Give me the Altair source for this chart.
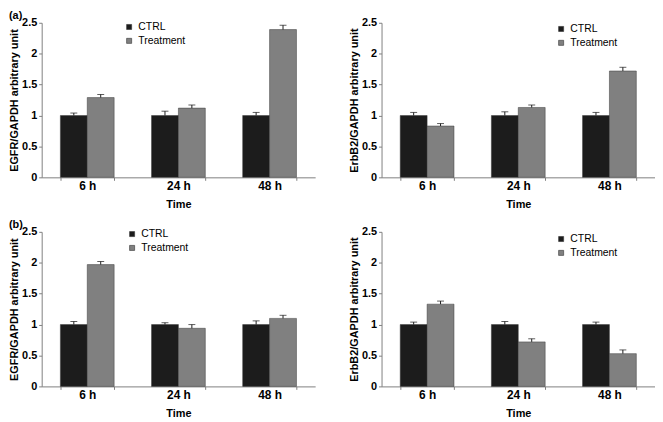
import altair as alt
import pandas as pd

FONT = "Liberation Sans"

TIMES = ["6 h", "24 h", "48 h"]
GROUPS = ["CTRL", "Treatment"]
COLORS = ["#1c1c1c", "#808080"]
PANEL_LABELS = ["(a)", "(b)"]
Y_TITLES = ["EGFR/GAPDH arbitrary unit", "ErbB2/GAPDH arbitrary unit"]
X_TITLE = "Time"
Y_TICKS = [0, 0.5, 1, 1.5, 2, 2.5]

# (a) left: EGFR
A_EGFR_CTRL = [1.0, 1.0, 1.0]
A_EGFR_CTRL_ERR = [0.04, 0.07, 0.05]
A_EGFR_TRT = [1.29, 1.12, 2.39]
A_EGFR_TRT_ERR = [0.05, 0.05, 0.07]

# (a) right: ErbB2
A_ERBB2_CTRL = [1.0, 1.0, 1.0]
A_ERBB2_CTRL_ERR = [0.05, 0.06, 0.05]
A_ERBB2_TRT = [0.83, 1.13, 1.72]
A_ERBB2_TRT_ERR = [0.04, 0.04, 0.06]

# (b) left: EGFR
B_EGFR_CTRL = [1.0, 1.0, 1.0]
B_EGFR_CTRL_ERR = [0.05, 0.03, 0.06]
B_EGFR_TRT = [1.97, 0.94, 1.10]
B_EGFR_TRT_ERR = [0.05, 0.06, 0.05]

# (b) right: ErbB2
B_ERBB2_CTRL = [1.0, 1.0, 1.0]
B_ERBB2_CTRL_ERR = [0.04, 0.05, 0.04]
B_ERBB2_TRT = [1.33, 0.72, 0.53]
B_ERBB2_TRT_ERR = [0.05, 0.05, 0.06]

W = 276
H = 156


def panel(ctrl, ctrl_err, trt, trt_err, ytitle, label, lx, ly):
    rows = []
    for i, t in enumerate(TIMES):
        rows.append({"time": t, "group": GROUPS[0], "value": ctrl[i], "upper": ctrl[i] + ctrl_err[i]})
        rows.append({"time": t, "group": GROUPS[1], "value": trt[i], "upper": trt[i] + trt_err[i]})
    df = pd.DataFrame(rows)
    base = alt.Chart(df)

    x = alt.X(
        "time:N",
        sort=TIMES,
        scale=alt.Scale(domain=TIMES, paddingInner=0.41, paddingOuter=0.205),
        axis=alt.Axis(
            title=X_TITLE, labelAngle=0, tickBand="extent", tickSize=3,
            labelPadding=0, titlePadding=7,
            labelFont=FONT, labelFontSize=12, labelFontWeight="bold", labelColor="#000",
            titleFont=FONT, titleFontSize=11, titleFontWeight="bold", titleColor="#000",
            domainColor="#808080", tickColor="#808080",
        ),
    )
    xo = alt.XOffset("group:N", sort=GROUPS,
                     scale=alt.Scale(domain=GROUPS, paddingInner=0, paddingOuter=0))
    yaxis = alt.Axis(
        title=ytitle, values=Y_TICKS, format="~g", tickSize=3, labelPadding=2,
        titlePadding=2, grid=False, labelOverlap=False,
        labelFont=FONT, labelFontSize=11, labelFontWeight="bold", labelColor="#000",
        titleFont=FONT, titleFontSize=11, titleFontWeight="bold", titleColor="#000",
        domainColor="#808080", tickColor="#808080",
    )
    yscale = alt.Scale(domain=[0, 2.5], nice=False)

    bars = base.mark_bar(stroke="#3a3a3a", strokeWidth=0.5).encode(
        x=x, xOffset=xo,
        y=alt.Y("value:Q", scale=yscale, axis=yaxis),
        color=alt.Color(
            "group:N",
            scale=alt.Scale(domain=GROUPS, range=COLORS),
            legend=alt.Legend(
                title=None, orient="none", legendX=lx, legendY=ly,
                symbolType="square", symbolSize=26, symbolStrokeColor="#333",
                symbolStrokeWidth=0.6, labelFont=FONT, labelFontSize=10.5,
                labelColor="#000", labelOffset=4, rowPadding=3, padding=0,
            ),
        ),
    )
    rule = base.mark_rule(color="#1a1a1a", strokeWidth=1).encode(
        x=x, xOffset=xo,
        y=alt.Y("value:Q", scale=yscale, axis=yaxis),
        y2="upper:Q",
    )
    cap = base.mark_tick(color="#1a1a1a", thickness=1, size=7).encode(
        x=x, xOffset=xo,
        y=alt.Y("upper:Q", scale=yscale, axis=yaxis),
    )
    layers = [bars, rule, cap]
    if label:
        lab = alt.Chart(pd.DataFrame({"t": [label]})).mark_text(
            align="left", baseline="bottom", font=FONT, fontSize=11,
            fontWeight="bold", color="#000",
        ).encode(x=alt.value(-33), y=alt.value(-2), text="t:N")
        layers.append(lab)
    return alt.layer(*layers).properties(width=W, height=H)


p1 = panel(A_EGFR_CTRL, A_EGFR_CTRL_ERR, A_EGFR_TRT, A_EGFR_TRT_ERR,
           Y_TITLES[0], PANEL_LABELS[0], 83, -1)
p2 = panel(A_ERBB2_CTRL, A_ERBB2_CTRL_ERR, A_ERBB2_TRT, A_ERBB2_TRT_ERR,
           Y_TITLES[1], None, 176, 1)
p3 = panel(B_EGFR_CTRL, B_EGFR_CTRL_ERR, B_EGFR_TRT, B_EGFR_TRT_ERR,
           Y_TITLES[0], PANEL_LABELS[1], 86, -3)
p4 = panel(B_ERBB2_CTRL, B_ERBB2_CTRL_ERR, B_ERBB2_TRT, B_ERBB2_TRT_ERR,
           Y_TITLES[1], None, 176, 2)

chart = alt.concat(
    p1, p2, p3, p4, columns=2,
    spacing={"row": 55, "column": 67}, bounds="flush",
).resolve_legend(color="independent").properties(
    padding=0
).configure_view(stroke=None).configure_axis(grid=False)

chart.save("out.html", embed_options={"renderer": "svg", "actions": False})
